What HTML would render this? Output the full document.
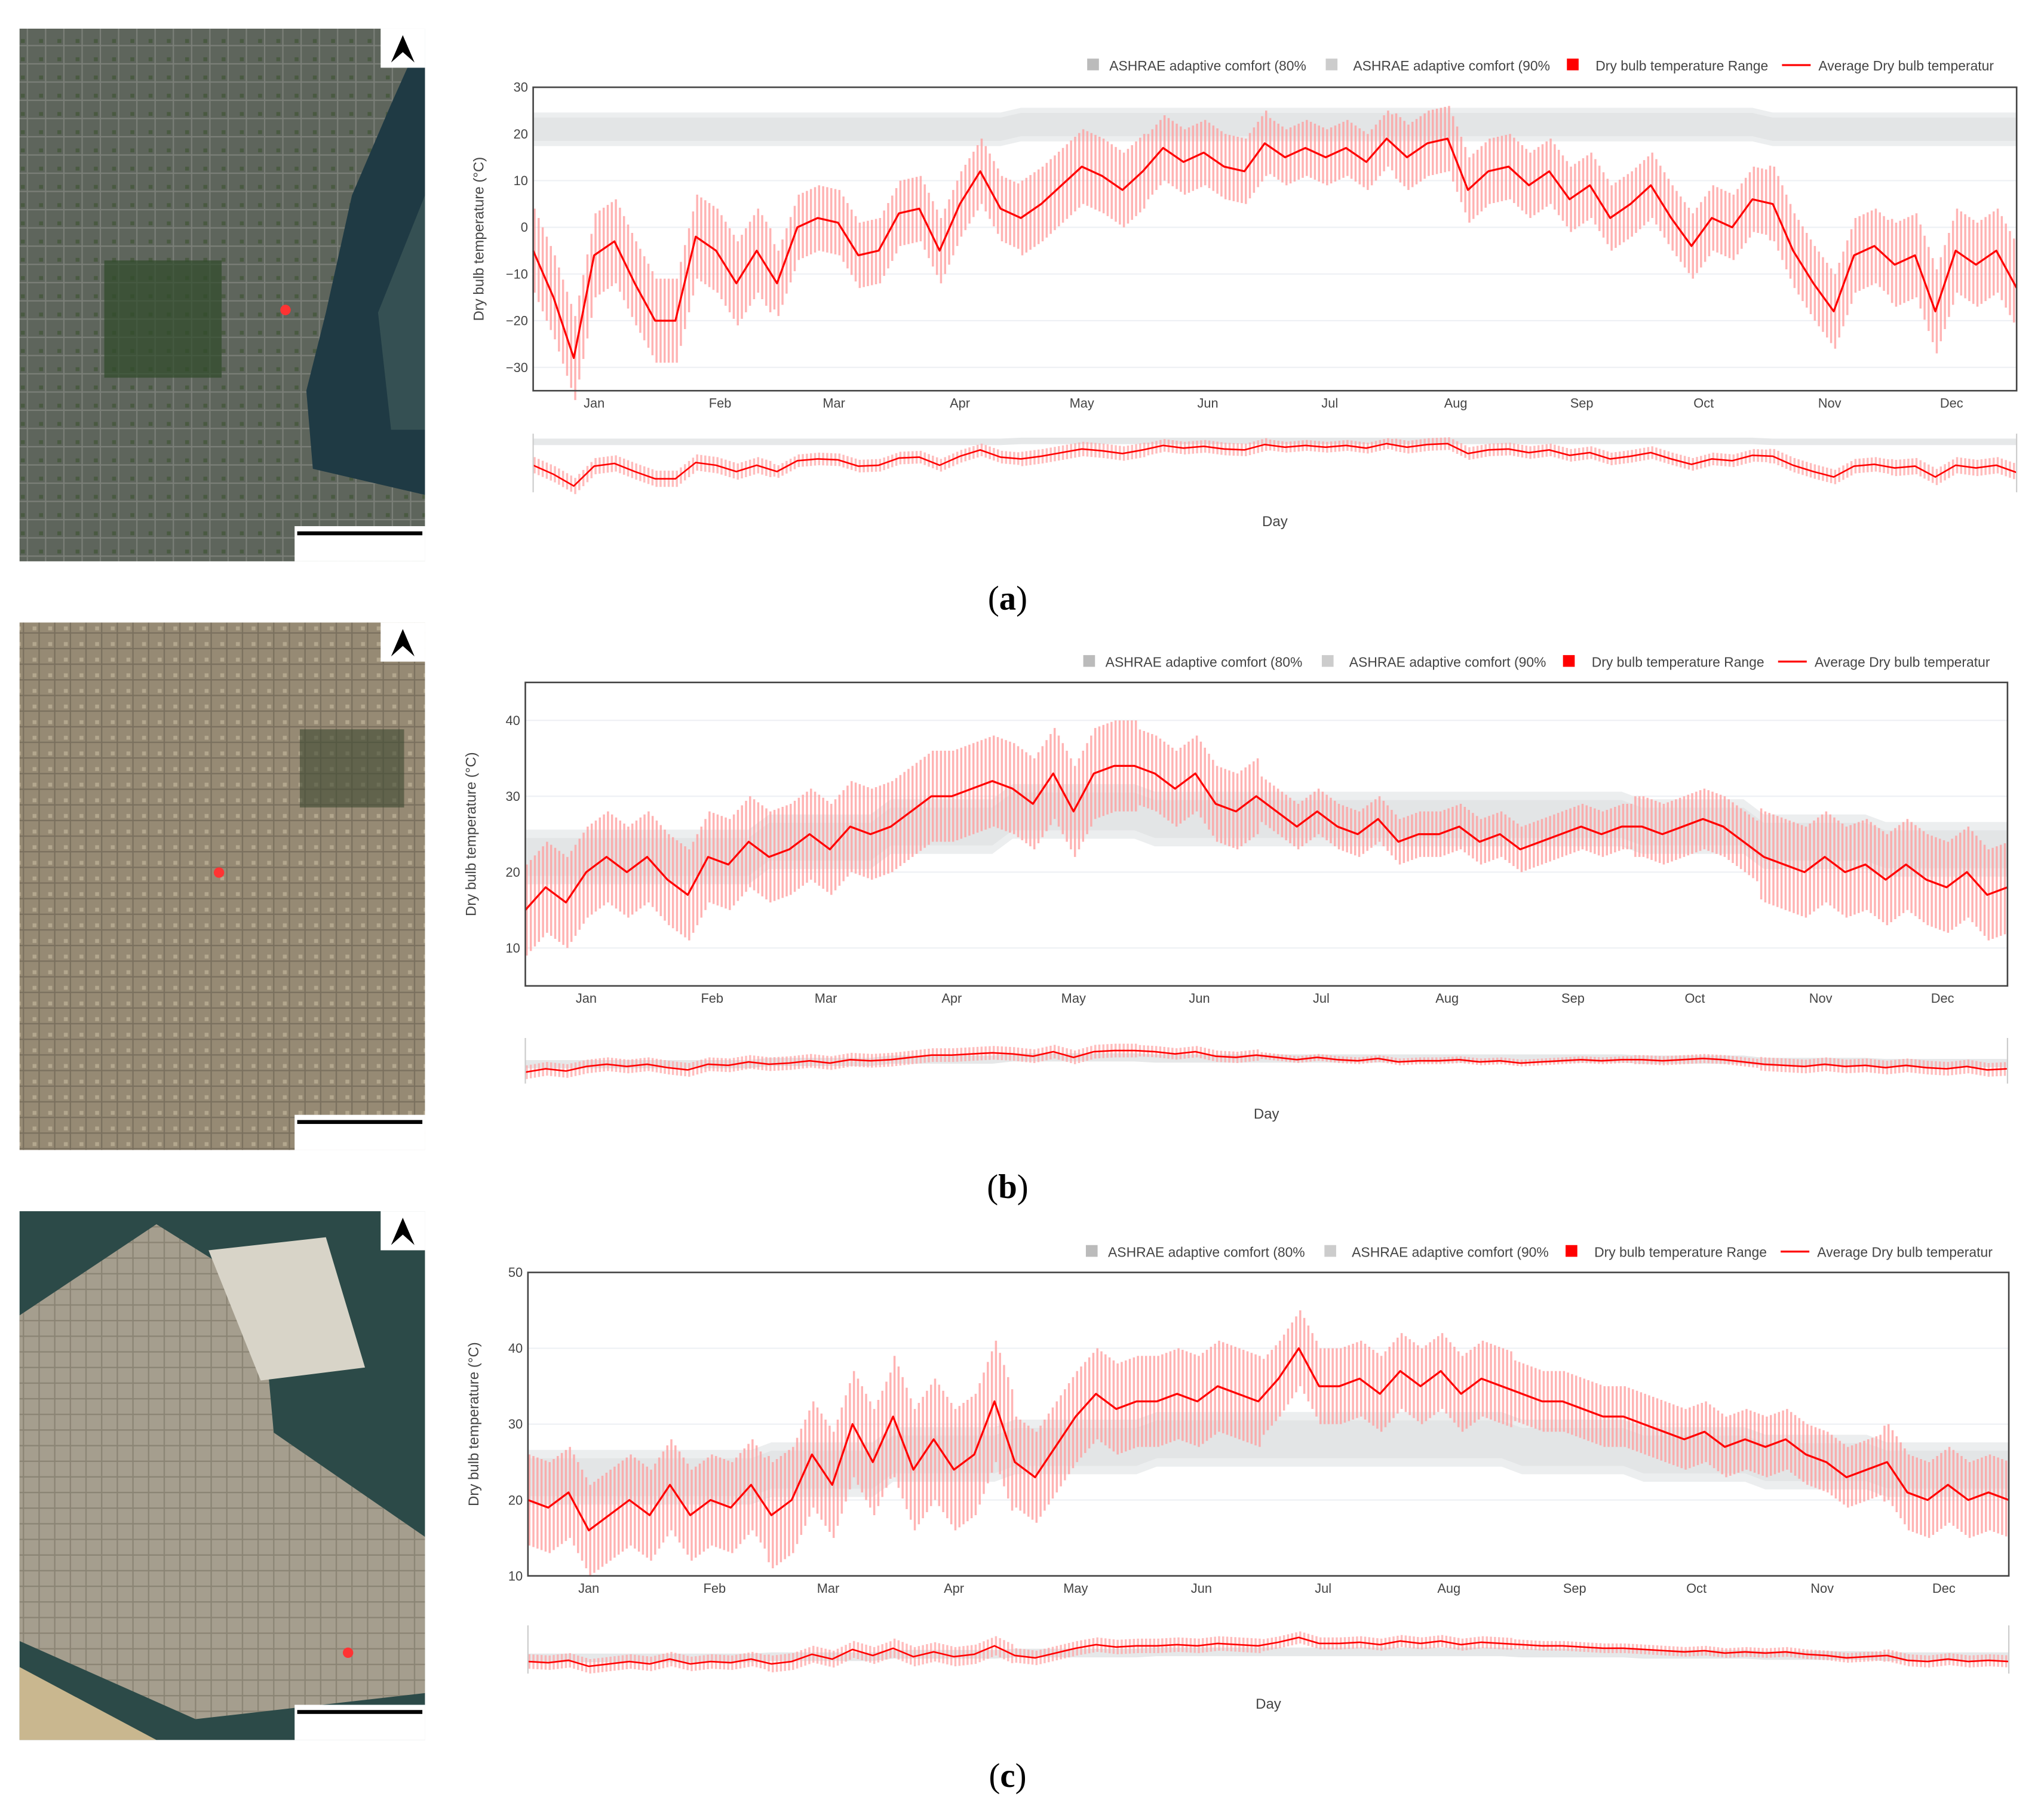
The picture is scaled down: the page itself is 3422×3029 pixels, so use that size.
<!DOCTYPE html>
<html><head><meta charset="utf-8"><style>
html,body{margin:0;padding:0;background:#fff;}
svg{display:block;font-family:"Liberation Sans",sans-serif;}
</style></head><body>
<svg id="fig" width="3422" height="3029" viewBox="0 0 1568 1389" preserveAspectRatio="none" xmlns="http://www.w3.org/2000/svg">
<defs>
<pattern id="texA" width="14" height="14" patternUnits="userSpaceOnUse"><rect width="14" height="14" fill="#5e655c"/><path d="M0 7H14M7 0V14" stroke="#7b7f78" stroke-width="1"/><rect x="2" y="2" width="3" height="3" fill="#4a5a42"/></pattern>
<pattern id="texB" width="12" height="12" patternUnits="userSpaceOnUse"><rect width="12" height="12" fill="#968a74"/><path d="M0 6H12M6 0V12" stroke="#7a705e" stroke-width="1"/><rect x="1" y="1" width="3" height="3" fill="#b3a78e"/></pattern>
<pattern id="texC" width="12" height="12" patternUnits="userSpaceOnUse"><rect width="12" height="12" fill="#a59e8e"/><path d="M0 6H12M6 0V12" stroke="#8a8474" stroke-width="1"/></pattern>
</defs>
<g>
<rect x="15" y="22" width="311" height="409" fill="url(#texA)"/>
<rect x="80" y="200" width="90" height="90" fill="#2f4a2a" opacity="0.7"/>
<path d="M326 22 L300 80 L270 150 L250 240 L235 300 L240 360 L326 380 Z" fill="#1f3a44"/>
<path d="M326 150 L290 240 L300 330 L326 330 Z" fill="#3e5a5a" opacity="0.7"/>
<rect x="292" y="22" width="34" height="30" fill="#fff"/><path d="M300 48 L309 27 L318 48 L309 40 Z" fill="#000"/>
<rect x="226" y="404" width="100" height="27" fill="#fff"/><rect x="228" y="408" width="96" height="3" fill="#000"/>
<circle cx="219" cy="238" r="4" fill="#f33"/>
</g>
<g>
<rect x="15" y="478" width="311" height="405" fill="url(#texB)"/>
<rect x="230" y="560" width="80" height="60" fill="#3d4a32" opacity="0.6"/>
<rect x="292" y="478" width="34" height="30" fill="#fff"/><path d="M300 504 L309 483 L318 504 L309 496 Z" fill="#000"/>
<rect x="226" y="856" width="100" height="27" fill="#fff"/><rect x="228" y="860" width="96" height="3" fill="#000"/>
<circle cx="168" cy="670" r="4" fill="#f33"/>
</g>
<g>
<rect x="15" y="930" width="311" height="406" fill="#2c4a48"/>
<path d="M15 1010 L120 940 L200 990 L210 1100 L326 1180 L326 1300 L150 1320 L15 1260 Z" fill="url(#texC)"/>
<path d="M160 960 L250 950 L280 1050 L200 1060 Z" fill="#d8d4c8"/>
<path d="M15 1280 L120 1336 L15 1336 Z" fill="#c9b78f"/>
<rect x="292" y="930" width="34" height="30" fill="#fff"/><path d="M300 956 L309 935 L318 956 L309 948 Z" fill="#000"/>
<rect x="226" y="1309" width="100" height="27" fill="#fff"/><rect x="228" y="1313" width="96" height="3" fill="#000"/>
<circle cx="267" cy="1269" r="4" fill="#f33"/>
</g>
<g id="charts"></g>
<text x="773" y="468" font-family="Liberation Serif,serif" font-size="26" text-anchor="middle">(<tspan font-weight="bold">a</tspan>)</text>
<text x="773" y="920" font-family="Liberation Serif,serif" font-size="26" text-anchor="middle">(<tspan font-weight="bold">b</tspan>)</text>
<text x="773" y="1372" font-family="Liberation Serif,serif" font-size="26" text-anchor="middle">(<tspan font-weight="bold">c</tspan>)</text>
</svg>
<script>
const monthLabels=["Jan","Feb","Mar","Apr","May","Jun","Jul","Aug","Sep","Oct","Nov","Dec"];
const monthStartDays=[0,31,59,90,120,151,181,212,243,273,304,334];
const avgA=[-5,-15,-28,-6,-3,-12,-20,-20,-2,-5,-12,-5,-12,0,2,1,-6,-5,3,4,-5,5,12,4,2,5,9,13,11,8,12,17,14,16,13,12,18,15,17,15,17,14,19,15,18,19,8,12,13,9,12,6,9,2,5,9,2,-4,2,0,6,5,-5,-12,-18,-6,-4,-8,-6,-18,-5,-8,-5,-13];
const avgB=[15,18,16,20,22,20,22,19,17,22,21,24,22,23,25,23,26,25,26,28,30,30,31,32,31,29,33,28,33,34,34,33,31,33,29,28,30,28,26,28,26,25,27,24,25,25,26,24,25,23,24,25,26,25,26,26,25,26,27,26,24,22,21,20,22,20,21,19,21,19,18,20,17,18];
const avgC=[20,19,21,16,18,20,18,22,18,20,19,22,18,20,26,22,30,25,31,24,28,24,26,33,25,23,27,31,34,32,33,33,34,33,35,34,33,36,40,35,35,36,34,37,35,37,34,36,35,34,33,33,32,31,31,30,29,28,29,27,28,27,28,26,25,23,24,25,21,20,22,20,21,20];
const spreadA=[9,9,7,7,8,7,6,7,7,7,8,9];
const spreadB=[6,6,6,6,6,5,3,3,3,4,6,6];
const spreadC=[6,6,7,8,6,6,5,5,4,4,4,5];
const comfortA=[21,21,21,21,22,22,22,22,22,22,21,21];
const comfortB=[22,22,24,26,28,27,27,27,27,26,24,23];
const comfortC=[23,23,24,26,27,28,28,28,27,26,25,24];
const ticksA=[30,20,10,0,-10,-20,-30];
const ticksB=[40,30,20,10];
const ticksC=[50,40,30,20,10];

const NS="http://www.w3.org/2000/svg";
const root=document.getElementById('charts');
function el(tag,attrs,parent){const e=document.createElementNS(NS,tag);for(const k in attrs)e.setAttribute(k,attrs[k]);(parent||root).appendChild(e);return e;}
function monthOf(d){let m=0;for(let i=0;i<12;i++)if(d>=monthStartDays[i])m=i;return m;}
function avgAt(arr,d){const i=Math.min(Math.floor(d/5),arr.length-2);const f=(d-i*5)/5;return arr[i]*(1-f)+arr[i+1]*f;}

function drawChart(c){
  const g=el('g',{});
  
  
  const x=d=>c.x0+d*(c.x1-c.x0)/365;
  const y=v=>c.y1-(v-c.vmin)*(c.y1-c.y0)/(c.vmax-c.vmin);
  const L=el('g',{},g);
  
  
  const ly=c.ly;
  el('rect',{x:c.lx,y:ly-5,width:9,height:9,fill:'#bbb'},L);
  el('text',{x:c.lx+17,y:ly+4,'font-size':10.5,fill:'#444'},L).textContent='ASHRAE adaptive comfort (80%';
  el('rect',{x:c.lx+183,y:ly-5,width:9,height:9,fill:'#ccc'},L);
  el('text',{x:c.lx+204,y:ly+4,'font-size':10.5,fill:'#444'},L).textContent='ASHRAE adaptive comfort (90%';
  el('rect',{x:c.lx+368,y:ly-5,width:9,height:9,fill:'#f00'},L);
  el('text',{x:c.lx+390,y:ly+4,'font-size':10.5,fill:'#444'},L).textContent='Dry bulb temperature Range';
  el('line',{x1:c.lx+533,y1:ly,x2:c.lx+555,y2:ly,stroke:'#f00','stroke-width':1.5},L);
  el('text',{x:c.lx+561,y:ly+4,'font-size':10.5,fill:'#444'},L).textContent='Average Dry bulb temperatur';
  c.ticks.forEach(t=>{
    el('line',{x1:c.x0,x2:c.x1,y1:y(t),y2:y(t),stroke:'#eef0f4','stroke-width':1},g);
    const tx=el('text',{x:c.x0-4,y:y(t)+3.5,'font-size':10,fill:'#444','text-anchor':'end'},g);
    tx.textContent=String(t).replace('-','−');
    
    
  });
  const yt=el('text',{x:0,y:0,'font-size':11,fill:'#444','text-anchor':'middle',transform:`translate(${c.x0-38},${(c.y0+c.y1)/2}) rotate(-90)`},g);
  yt.textContent='Dry bulb temperature (°C)';
  
  
  function band(comfort,yf,xf,half,fill,parent){
    let top='',bot='';
    for(let d=0;d<=365;d+=5){const m=monthOf(Math.min(d,364));top+=`${xf(d)},${yf(comfort[m]+half)} `;bot=`${xf(d)},${yf(comfort[m]-half)} `+bot;}
    return el('polygon',{points:top+bot,fill:fill},parent||g);
  }
  const b1=band(c.comfort,y,x,3.6,'#eceeef');
  
  
  const b2=band(c.comfort,y,x,2.5,'#e3e5e6');
  
  
  for(let d=0;d<365;d++){
    const v=avgAt(c.avg,d);
    const s=c.spread[monthOf(d)];
    const bar=el('rect',{x:x(d)+0.3,width:1.6,y:y(v+s),height:y(v-s)-y(v+s),fill:'#ff9a9a',opacity:0.75},g);
    
    
  }
  const pts=c.avg.map((v,i)=>`${x(Math.min(i*5,365))},${y(v)}`).join(' ');
  const ln=el('polyline',{points:pts,fill:'none',stroke:'#f00','stroke-width':1.5,'stroke-linejoin':'round'},g);
  
  
  el('rect',{x:c.x0,y:c.y0,width:c.x1-c.x0,height:c.y1-c.y0,fill:'none',stroke:'#444','stroke-width':1.2},g);
  monthLabels.forEach((m,i)=>{
    const t=el('text',{x:x(monthStartDays[i]+15),y:c.y1+13,'font-size':10,fill:'#444','text-anchor':'middle'},g);
    t.textContent=m;
    
    
  });
  const sy0=c.sy0,sy1=c.sy1;
  const ys=v=>sy1-(v-c.vmin)*(sy1-sy0)/(c.vmax-c.vmin);
  const sl=el('g',{},g);
  
  
  band(c.comfort,ys,x,3.6,'#e6e8e9',sl);
  for(let d=0;d<365;d++){const v=avgAt(c.avg,d);const s=c.spread[monthOf(d)];
    el('rect',{x:x(d)+0.3,width:1.6,y:ys(v+s),height:ys(v-s)-ys(v+s),fill:'#ffa0a0',opacity:0.7},sl);}
  el('polyline',{points:c.avg.map((v,i)=>`${x(Math.min(i*5,365))},${ys(v)}`).join(' '),fill:'none',stroke:'#f00','stroke-width':1.2},sl);
  el('line',{x1:c.x0,x2:c.x0,y1:sy0,y2:sy1,stroke:'#ccc'},sl);
  el('line',{x1:c.x1,x2:c.x1,y1:sy0,y2:sy1,stroke:'#ccc'},sl);
  const dl=el('text',{x:(c.x0+c.x1)/2,y:c.dayY,'font-size':11,fill:'#444','text-anchor':'middle'},g);
  dl.textContent='Day';
  
  
}
drawChart({name:'chart-montreal',x0:409,x1:1547,y0:67,y1:300,vmin:-35,vmax:30,ticks:ticksA,avg:avgA,spread:spreadA,comfort:comfortA,lx:834,ly:50,sy0:333,sy1:378,dayY:404});
drawChart({name:'chart-delhi',x0:403,x1:1540,y0:524,y1:757,vmin:5,vmax:45,ticks:ticksB,avg:avgB,spread:spreadB,comfort:comfortB,lx:831,ly:508,sy0:797,sy1:832,dayY:859});
drawChart({name:'chart-abudhabi',x0:405,x1:1541,y0:977,y1:1210,vmin:10,vmax:50,ticks:ticksC,avg:avgC,spread:spreadC,comfort:comfortC,lx:833,ly:961,sy0:1248,sy1:1285,dayY:1312});
</script>
</body></html>
